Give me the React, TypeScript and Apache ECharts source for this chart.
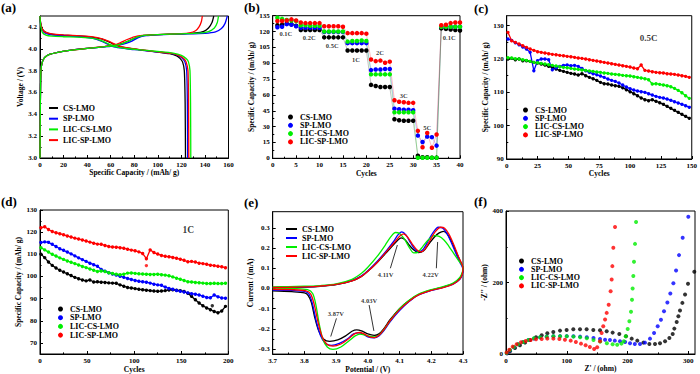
import React, { useEffect, useRef } from 'react';
import * as echarts from 'echarts';

const NAMES = ['CS-LMO', 'SP-LMO', 'LIC-CS-LMO', 'LIC-SP-LMO'];
const COLORS = ['#000000', '#0000ff', '#00ee00', '#ff0000'];
const FONT = '"Liberation Serif", "Times New Roman", "DejaVu Serif", serif';

// ---------- (a) charge / discharge profiles [capacity, voltage] ----------
const chargeCS = [[0, 3.0], [0.3, 3.5], [0.8, 3.8], [2, 3.88], [4, 3.92], [8, 3.948], [15, 3.968], [25, 3.985], [40, 4.003], [55, 4.02], [63, 4.033], [70, 4.05], [76, 4.075], [82, 4.105], [88, 4.122], [100, 4.13], [120, 4.137], [132, 4.145], [139, 4.16], [143, 4.19], [146, 4.24], [147.5, 4.3]];
const chargeSP = [[0, 3.0], [0.3, 3.5], [0.8, 3.8], [2, 3.88], [4, 3.92], [8, 3.948], [15, 3.968], [25, 3.985], [40, 4.003], [55, 4.018], [62, 4.025], [70, 4.04], [77, 4.065], [83, 4.1], [90, 4.12], [100, 4.128], [120, 4.135], [140, 4.142], [149, 4.155], [154, 4.185], [157, 4.23], [159, 4.3]];
const chargeLICCS = [[0, 3.0], [0.3, 3.5], [0.8, 3.8], [2, 3.88], [4, 3.92], [8, 3.948], [15, 3.968], [25, 3.985], [40, 4.003], [55, 4.019], [63, 4.03], [70, 4.048], [77, 4.08], [83, 4.108], [90, 4.124], [100, 4.13], [120, 4.137], [135, 4.143], [143, 4.158], [148, 4.19], [150.5, 4.24], [151.5, 4.3]];
const chargeLICSP = [[0, 3.0], [0.3, 3.5], [0.8, 3.8], [2, 3.88], [4, 3.92], [8, 3.948], [15, 3.968], [25, 3.985], [40, 4.004], [55, 4.022], [63, 4.035], [68, 4.055], [74, 4.085], [80, 4.11], [87, 4.123], [100, 4.13], [120, 4.138], [127, 4.145], [132, 4.165], [135, 4.2], [137, 4.25], [137.8, 4.3]];
const dischargeCS = [[0, 4.3], [0.5, 4.24], [2, 4.18], [5, 4.15], [10, 4.135], [20, 4.125], [35, 4.115], [45, 4.105], [52, 4.09], [58, 4.065], [63, 4.04], [68, 4.02], [75, 4.005], [85, 3.99], [100, 3.97], [110, 3.955], [116, 3.935], [119, 3.91], [121, 3.88], [122.5, 3.8], [123.2, 3.5], [123.5, 3.0]];
const dischargeSP = [[0, 4.3], [0.5, 4.23], [2, 4.17], [5, 4.14], [10, 4.128], [20, 4.12], [35, 4.11], [45, 4.095], [52, 4.07], [58, 4.04], [62, 4.02], [68, 4.008], [75, 3.998], [85, 3.988], [100, 3.97], [112, 3.955], [118, 3.935], [121, 3.91], [123, 3.88], [124.5, 3.8], [125.1, 3.5], [125.3, 3.0]];
const dischargeLICCS = [[0, 4.3], [0.5, 4.22], [2, 4.15], [5, 4.125], [10, 4.115], [20, 4.11], [35, 4.105], [45, 4.095], [52, 4.075], [58, 4.045], [62, 4.025], [68, 4.01], [75, 4.0], [85, 3.99], [100, 3.975], [113, 3.96], [120, 3.94], [124, 3.91], [126, 3.88], [127.3, 3.8], [127.8, 3.5], [128, 3.0]];
const dischargeLICSP = [[0, 4.3], [0.5, 4.24], [2, 4.18], [5, 4.15], [10, 4.137], [20, 4.128], [35, 4.118], [45, 4.108], [52, 4.093], [58, 4.07], [64, 4.04], [69, 4.02], [76, 4.005], [85, 3.992], [100, 3.972], [112, 3.957], [118, 3.937], [122, 3.91], [124, 3.88], [125.6, 3.8], [126.1, 3.5], [126.3, 3.0]];
const capTicks = [0, 20, 40, 60, 80, 100, 120, 140, 160];
const voltTicks = [3.0, 3.2, 3.4, 3.6, 3.8, 4.0, 4.2];

// ---------- (b) rate capability ----------
const rateCS = [126, 126.5, 127.5, 127, 125.5, 121.5, 121.5, 121.5, 121.5, 121.5, 114.5, 114.5, 114.5, 114.5, 114.5, 102, 102, 102, 102, 102, 69.5, 68.5, 67.5, 67.5, 67.5, 37, 36, 35.5, 35.5, 35.5, 2.5, 1, 1, 0.5, 0.5, 123, 122.5, 122, 121.5, 121];
const rateSP = [124, 124.5, 127, 126.5, 125, 123.5, 123.5, 123.5, 123.5, 123.5, 119.5, 119.5, 119.5, 119.5, 119.5, 109, 109, 109, 109, 109, 83.5, 84, 84, 84.5, 84.5, 47, 46.5, 46, 46, 45.5, 21.5, 15.5, 20.5, 20, 12, 124.5, 124.5, 124.5, 124.5, 124.5];
const rateLICCS = [133, 132, 131, 130.5, 130, 126, 126, 125.5, 125.5, 125.5, 120, 120, 120, 120, 120, 110.5, 111, 111, 111.5, 111, 79.5, 79.5, 79.5, 79.5, 79.5, 43.5, 43.5, 43.5, 43.5, 43.5, 0.5, 0.5, 0.5, 0.5, 0.5, 124.5, 124.5, 124.5, 124.5, 124.5];
const rateLICSP = [130, 130, 130.5, 131.5, 130.5, 128.5, 128, 128, 128, 128, 125, 125, 125, 125, 124.5, 118.5, 118.5, 118.5, 118.5, 118, 93.5, 92, 92.5, 90.5, 91.5, 55, 53.5, 53, 52.5, 52.5, 26, 10.5, 24, 10, 22.5, 126, 126.5, 128, 128.5, 128.5];
const rateLabels = ['0.1C', '0.2C', '0.5C', '1C', '2C', '3C', '5C', '0.1C'];
const rateLabelPos = [[2.8, 118.5], [7.8, 114.7], [12.7, 107.2], [17.8, 94], [22.9, 99.7], [28, 59.9], [33, 29.6], [37.7, 114.8]];
const rateXTicks = [0, 5, 10, 15, 20, 25, 30, 35, 40];
const rateYTicks = [0, 15, 30, 45, 60, 75, 90, 105, 120, 135];

// ---------- (c) 0.5C cycling (every 3rd cycle from 1) ----------
const cyc05CS = [120, 120.2, 119.8, 120, 119.5, 119.5, 119.3, 119, 118.8, 118.5, 118.2, 117.8, 117.5, 117, 116.6, 116.3, 116, 115.7, 115.5, 115.2, 115.6, 115, 114.5, 114.1, 113.6, 113, 112.6, 112.5, 112.2, 112, 111.8, 111.4, 110.8, 110.2, 109.6, 109, 108.3, 107.8, 107.5, 107.8, 107.3, 106.9, 106.4, 105.8, 105.2, 104.6, 104, 103.4, 102.8, 102.2];
const cyc05SP = [126, 125.6, 124.9, 124.3, 123.6, 123, 122, 116.5, 119.5, 120, 120, 119.8, 116.8, 117.4, 117.8, 118.1, 118.2, 118, 118.1, 117.8, 117.2, 116.5, 116, 115.6, 115.3, 114.9, 114.5, 114, 113.6, 113.3, 112.8, 112.2, 111.6, 111.1, 110.7, 110.4, 110.2, 110, 109.6, 109.2, 108.8, 108.5, 108.3, 108, 107.6, 107.2, 106.8, 106.4, 106, 105.5];
const cyc05LICCS = [120.4, 120.3, 120.1, 120, 119.8, 119.6, 119.3, 119, 118.9, 118.7, 118.5, 118.3, 118.1, 117.9, 117.7, 117.5, 117.4, 117.2, 117, 116.9, 116.7, 116.6, 116.4, 116.3, 116.1, 116, 115.8, 115.7, 115.5, 115.4, 115.3, 115.1, 115, 114.9, 114.7, 114.5, 114.3, 114.1, 113.8, 112.5, 112.6, 112.4, 112.2, 112, 111.7, 111.2, 110.6, 109.9, 109, 108.2];
const cyc05LICSP = [128, 125.5, 125, 124.5, 124, 123.5, 123, 122.6, 122.2, 122, 121.8, 121.6, 121.4, 121.3, 121.1, 121, 120.8, 120.7, 120.5, 120.3, 120.2, 120, 119.8, 119.6, 119.4, 119.2, 119, 118.8, 118.6, 118.4, 118.2, 118, 117.8, 117.6, 117.3, 117.1, 118.2, 116.6, 116.4, 116.2, 116, 115.9, 115.8, 115.6, 115.5, 115.4, 115.2, 115, 114.8, 114.5];
const c05XTicks = [0, 25, 50, 75, 100, 125, 150];
const c05YTicks = [90, 100, 110, 120, 130];

// ---------- (d) 1C cycling (every 4th cycle from 1) ----------
const cyc1CS = [110, 108.5, 106.5, 105, 103.8, 102.8, 102, 101.2, 100.4, 99.6, 99, 98.4, 98, 98.4, 97.5, 97.6, 97.4, 97.3, 97.1, 97, 96.9, 96.2, 95.6, 95, 94.8, 94.5, 94.2, 94, 93.8, 93.6, 93.4, 93.3, 93.4, 93.6, 93.9, 94, 93.8, 93.6, 93.2, 92.4, 91, 89.5, 88, 86.8, 85.8, 85, 84.2, 83.6, 84.4, 86.5];
const cyc1SP = [115.3, 115.6, 115.4, 114.5, 113.5, 112.5, 111.8, 111, 110.2, 109.3, 108.4, 107.6, 106.8, 106, 105.3, 104.6, 103.2, 102.4, 101.7, 101.1, 100.6, 100.1, 99.6, 99.1, 98.6, 98.2, 97.8, 97.6, 97.4, 97, 96.5, 96.2, 96, 95.2, 94.6, 94.2, 93.7, 93.3, 93, 92.6, 92.2, 92, 91.6, 91.1, 90.5, 90.4, 91.6, 90.8, 90.3, 90.2];
const cyc1LICCS = [113, 112, 111, 110, 109.2, 108.4, 107.7, 107, 106.4, 105.8, 105.2, 104.5, 104, 103.4, 102.8, 102.2, 102.5, 102.2, 101.7, 101.3, 101, 100.8, 101, 101.5, 101.6, 101.4, 101.2, 101.1, 101, 100.9, 100.9, 101, 100.8, 100.6, 100.3, 99.8, 99.2, 98.7, 98.2, 97.6, 97.5, 97.3, 97.2, 97, 96.8, 96.8, 96.9, 96.8, 96.8, 96.9];
const cyc1LICSP = [122, 122.4, 121.2, 120.3, 119.7, 119.3, 118.8, 118.3, 117.8, 117.3, 116.9, 116.5, 116, 115.5, 115, 114.6, 114.5, 114, 113.5, 113.3, 113.2, 113, 112.7, 112.3, 111.9, 111.6, 111.1, 110.4, 108, 112, 110.8, 110.1, 109.5, 109.1, 108.9, 108.6, 108.2, 107.8, 107.3, 106.6, 106.8, 106.5, 106, 105.8, 105.5, 105.1, 104.9, 104.6, 104.4, 103.9];
const cyc1OutCS = [[183, 86.8]];
const cyc1OutLICSP = [[113, 104.9]];
const c1XTicks = [0, 50, 100, 150, 200];
const c1YTicks = [70, 80, 90, 100, 110, 120, 130];

// ---------- (e) cyclic voltammetry [V, mA] ----------
const cvCS = [[3.70, 0.004], [3.75, 0.005], [3.80, 0.007], [3.85, 0.011], [3.90, 0.019], [3.95, 0.037], [3.98, 0.06], [4.00, 0.085], [4.03, 0.13], [4.06, 0.18], [4.08, 0.215], [4.095, 0.24], [4.105, 0.25], [4.118, 0.24], [4.13, 0.215], [4.145, 0.19], [4.16, 0.177], [4.175, 0.185], [4.19, 0.215], [4.21, 0.255], [4.225, 0.275], [4.238, 0.283], [4.25, 0.27], [4.265, 0.23], [4.28, 0.175], [4.29, 0.14], [4.3, 0.1],
  [4.298, 0.075], [4.29, 0.05], [4.27, 0.025], [4.24, 0.008], [4.2, -0.008], [4.16, -0.03], [4.13, -0.06], [4.1, -0.1], [4.07, -0.155], [4.05, -0.2], [4.035, -0.225], [4.02, -0.232], [4.0, -0.225], [3.98, -0.21], [3.965, -0.205], [3.95, -0.212], [3.93, -0.235], [3.905, -0.255], [3.88, -0.262], [3.86, -0.25], [3.845, -0.21], [3.832, -0.14], [3.822, -0.07], [3.812, -0.035], [3.8, -0.022], [3.76, -0.016], [3.7, -0.012]];
const cvSP = [[3.70, 0.005], [3.75, 0.006], [3.80, 0.008], [3.85, 0.012], [3.90, 0.02], [3.95, 0.04], [3.98, 0.063], [4.00, 0.088], [4.03, 0.135], [4.06, 0.19], [4.08, 0.23], [4.095, 0.265], [4.107, 0.28], [4.12, 0.265], [4.135, 0.225], [4.15, 0.19], [4.162, 0.182], [4.175, 0.195], [4.19, 0.235], [4.205, 0.275], [4.222, 0.303], [4.235, 0.3], [4.25, 0.27], [4.265, 0.22], [4.28, 0.165], [4.29, 0.13], [4.3, 0.095],
  [4.298, 0.07], [4.29, 0.045], [4.27, 0.022], [4.24, 0.006], [4.2, -0.01], [4.16, -0.032], [4.13, -0.065], [4.1, -0.11], [4.07, -0.165], [4.05, -0.21], [4.035, -0.235], [4.02, -0.245], [4.0, -0.24], [3.985, -0.225], [3.97, -0.22], [3.955, -0.225], [3.935, -0.25], [3.91, -0.272], [3.885, -0.282], [3.865, -0.27], [3.85, -0.23], [3.837, -0.16], [3.826, -0.08], [3.815, -0.03], [3.8, -0.015], [3.76, -0.01], [3.7, -0.008]];
const cvLICCS = [[3.70, 0.008], [3.75, 0.009], [3.80, 0.011], [3.85, 0.014], [3.90, 0.022], [3.95, 0.045], [3.98, 0.075], [4.00, 0.105], [4.03, 0.16], [4.055, 0.215], [4.072, 0.255], [4.087, 0.277], [4.1, 0.272], [4.115, 0.245], [4.13, 0.205], [4.145, 0.176], [4.158, 0.18], [4.172, 0.205], [4.19, 0.24], [4.21, 0.262], [4.225, 0.258], [4.24, 0.24], [4.255, 0.21], [4.27, 0.175], [4.285, 0.14], [4.3, 0.105],
  [4.298, 0.08], [4.29, 0.055], [4.27, 0.028], [4.24, 0.01], [4.2, -0.006], [4.16, -0.028], [4.13, -0.058], [4.1, -0.1], [4.07, -0.16], [4.05, -0.205], [4.035, -0.23], [4.02, -0.24], [4.0, -0.235], [3.985, -0.228], [3.975, -0.226], [3.96, -0.235], [3.94, -0.26], [3.915, -0.29], [3.89, -0.302], [3.872, -0.29], [3.858, -0.25], [3.846, -0.17], [3.836, -0.08], [3.826, -0.025], [3.81, -0.006], [3.77, 0.0], [3.7, 0.002]];
const cvLICSP = [[3.70, 0.005], [3.75, 0.006], [3.80, 0.008], [3.85, 0.012], [3.90, 0.02], [3.95, 0.038], [3.98, 0.06], [4.00, 0.085], [4.03, 0.13], [4.06, 0.185], [4.085, 0.23], [4.1, 0.258], [4.112, 0.27], [4.125, 0.255], [4.14, 0.22], [4.155, 0.19], [4.167, 0.181], [4.18, 0.195], [4.195, 0.235], [4.212, 0.28], [4.23, 0.303], [4.242, 0.298], [4.255, 0.27], [4.27, 0.22], [4.285, 0.16], [4.3, 0.1],
  [4.298, 0.072], [4.29, 0.046], [4.27, 0.022], [4.24, 0.005], [4.2, -0.01], [4.16, -0.032], [4.13, -0.063], [4.1, -0.105], [4.07, -0.16], [4.05, -0.205], [4.035, -0.232], [4.022, -0.243], [4.005, -0.24], [3.988, -0.225], [3.973, -0.218], [3.958, -0.225], [3.94, -0.248], [3.915, -0.275], [3.89, -0.286], [3.87, -0.275], [3.855, -0.235], [3.842, -0.16], [3.831, -0.08], [3.82, -0.028], [3.805, -0.012], [3.76, -0.006], [3.7, -0.004]];
const cvLabels = ['4.11V', '4.22V', '3.87V', '4.03V'];
const cvLabelPos = [[4.056, 0.071], [4.198, 0.071], [3.899, -0.123], [4.004, -0.06]];
const cvArrowFrom = [[4.071, 0.1], [4.216, 0.1], [3.901, -0.148], [4.004, -0.082]];
const cvArrowTo = [[4.093, 0.215], [4.22, 0.23], [3.883, -0.238], [4.019, -0.21]];
const cvXTicks = [3.7, 3.8, 3.9, 4.0, 4.1, 4.2, 4.3];
const cvYTicks = [-0.3, -0.2, -0.1, 0, 0.1, 0.2, 0.3];

// ---------- (f) Nyquist [Z', -Z''] ----------
const eisCS = [[2, 2], [6.6, 7.5], [14.8, 16.8], [23, 24.3], [31.3, 31.8], [39.5, 39.3], [49.4, 46.7], [58.7, 52.3], [68, 57.9], [77.9, 61.7], [88.9, 65.4], [99.8, 67.3], [110.8, 69.2], [121.8, 69.2], [132.7, 69.2], [143.7, 67.3], [154.7, 66.4], [165.7, 63.6], [175.5, 59.8], [186.5, 56.1], [197.5, 49.5], [206.8, 43], [216.1, 37.4], [226, 31.8], [235.9, 28], [245.2, 28], [253.4, 29.9], [261.7, 35.5], [268.8, 44.9], [274.3, 56.1], [277, 71], [280.9, 89.7], [283.6, 105.6], [286.3, 121.5], [290.2, 143], [294.6, 166.4], [299.5, 196.3], [309.9, 229.9]];
const eisSP = [[1.5, 2], [6.6, 10], [13, 19], [20, 27], [28, 33.6], [37, 39], [46, 43], [56, 46.5], [67, 48.6], [78, 49.5], [89, 50], [100, 50], [111, 49.5], [122, 48.6], [133, 47], [144, 45], [154.7, 42], [163, 40], [171, 39], [179, 37.4], [187.6, 35.5], [196, 33.6], [204, 30], [212, 28], [220.5, 28], [228.7, 31.8], [237, 43], [243.6, 58.9], [249.6, 77.6], [255, 96], [260, 119.6], [265.5, 144], [270.4, 169], [275.4, 198], [279.8, 233.6], [284.7, 276.6], [290.7, 325], [300, 384]];
const eisLICCS = [[1, 3], [6.6, 11], [13, 19.6], [20, 27], [28.5, 33.6], [36.8, 39], [46, 44], [56, 46.7], [67, 48.6], [78, 49.5], [89, 49.5], [100, 49.5], [111, 48.6], [122, 46.7], [133, 44], [144, 39], [155, 34.6], [166, 30], [175.5, 27], [183, 26], [190, 29], [194, 35.5], [197, 49.5], [200.2, 70], [203, 91.6], [205.7, 118], [207.3, 152], [208.4, 183], [209.5, 218], [210.6, 258], [212.3, 308], [214, 369]];
const eisLICSP = [[1, 4], [5.5, 12], [11, 20.6], [17.6, 27], [24.7, 32.7], [32.4, 36.4], [40.6, 39], [49.4, 41], [58.7, 42], [68, 43], [78, 43], [87.8, 42], [97, 40], [106.4, 37.4], [115, 33.6], [123.4, 29], [131, 24.3], [138, 19.6], [145, 14], [150, 18.7], [154.7, 35.5], [157.4, 58.9], [160, 77.6], [163, 96.3], [165.7, 115], [169, 138], [172.2, 175.7], [173.9, 208.4], [175, 245.8], [176.6, 297], [179.4, 355]];
const eisXTicks = [0, 100, 200, 300];
const eisYTicks = [0, 200, 400];

const panelTitles = ['(a)', '(b)', '(c)', '(d)', '(e)', '(f)'];

function txt(size: number) {
  return { fontFamily: FONT, fontWeight: 'bold', fontSize: size, color: '#000' };
}

function cycles(start: number, step: number, n: number) {
  return Array.from({ length: n }, (_, i) => start + step * i);
}

function midpoints(ticks: number[]) {
  const out: number[] = [];
  for (let i = 0; i < ticks.length - 1; i++) out.push((ticks[i] + ticks[i + 1]) / 2);
  return out;
}

function axis(gi: number, min: number, max: number, ticks: number[], name: string, gap: number, fmt?: (v: number) => string) {
  return {
    type: 'value', gridIndex: gi, min, max, name, nameLocation: 'middle', nameGap: gap,
    nameTextStyle: txt(7.5),
    axisLine: { show: true, onZero: false, lineStyle: { color: '#000', width: 1 } },
    axisTick: { show: true, inside: true, length: 3, customValues: ticks, lineStyle: { color: '#000', width: 1 } },
    axisLabel: { ...txt(7), margin: 3, customValues: ticks, formatter: fmt },
    splitLine: { show: false },
  };
}

function minorAxis(gi: number, min: number, max: number, ticks: number[], position: string) {
  return {
    type: 'value', gridIndex: gi, min, max, position, offset: 0,
    axisLine: { show: false, onZero: false },
    axisLabel: { show: false },
    splitLine: { show: false },
    axisTick: { show: true, inside: true, length: 1.6, customValues: midpoints(ticks), lineStyle: { color: '#000', width: 1 } },
  };
}

function legend(left: number, top: number, icon: string, w: number, h: number, gap: number) {
  return {
    left, top, orient: 'vertical', icon, itemWidth: w, itemHeight: h, itemGap: gap,
    selectedMode: false, padding: 0,
    textStyle: { ...txt(8), lineHeight: 8 },
    data: NAMES.map((n, i) => ({ name: n, icon, itemStyle: { color: COLORS[i] } })),
  };
}

function labelSeries(gi: number, labels: string[], pos: number[][], size: number, extra?: any) {
  return {
    type: 'scatter', xAxisIndex: gi, yAxisIndex: gi, symbolSize: 1, silent: true,
    itemStyle: { color: 'rgba(0,0,0,0)' },
    label: { show: true, position: 'inside', formatter: '{b}', ...txt(size) },
    data: labels.map((t, i) => ({ name: t, value: pos[i] })),
    z: 10,
    ...(extra || {}),
  };
}

function buildOption() {
  const f1 = (v: number) => v.toFixed(1);
  const grids = [
    { left: 40, top: 16, width: 188.5, height: 142 },
    { left: 272.7, top: 15.7, width: 187.3, height: 142.6 },
    { left: 506.7, top: 15.7, width: 188.6, height: 143.3 },
    { left: 40, top: 210, width: 188.3, height: 145 },
    { left: 272.7, top: 211.7, width: 190.3, height: 143.3 },
    { left: 506, top: 211, width: 189, height: 143 },
  ].map((g) => ({ ...g, show: true, borderColor: '#000', borderWidth: 1, backgroundColor: 'transparent' }));

  const xSpec: [number, number, number[], string, number, any][] = [
    [0, 160, capTicks, 'Specific Capacity / (mAh/ g)', 10, undefined],
    [0, 40, rateXTicks, 'Cycles', 10, undefined],
    [0, 150, c05XTicks, 'Cycles', 9.5, undefined],
    [0, 200, c1XTicks, 'Cycles', 11, undefined],
    [3.7, 4.3, cvXTicks, 'Potential / (V)', 9.5, f1],
    [0, 311, eisXTicks, "Z' / (ohm)", 10, undefined],
  ];
  const ySpec: [number, number, number[], string, number, any][] = [
    [3.0, 4.3, voltTicks, 'Voltage / (V)', 12, f1],
    [0, 135, rateYTicks, 'Specific Capacity / (mAh/ g)', 13.5, undefined],
    [90, 133, c05YTicks, 'Specific Capacity / (mAh/ g)', 15, undefined],
    [65, 130, c1YTicks, 'Specific Capacity / (mAh/ g)', 15, undefined],
    [-0.325, 0.38, cvYTicks, 'Current / (mA)', 11, f1],
    [0, 400, eisYTicks, "-Z'' / (ohm)", 14, undefined],
  ];
  const xAxis: any[] = xSpec.map((s, i) => ({ ...axis(i, s[0], s[1], s[2], s[3], s[4], s[5]), position: 'bottom' }));
  const yAxis: any[] = ySpec.map((s, i) => ({ ...axis(i, s[0], s[1], s[2], s[3], s[4], s[5]), position: 'left' }));
  xSpec.forEach((s, i) => xAxis.push(minorAxis(i, s[0], s[1], s[2], 'bottom')));
  ySpec.forEach((s, i) => yAxis.push(minorAxis(i, s[0], s[1], s[2], 'left')));

  const series: any[] = [];

  // (a)
  const charges = [chargeCS, chargeSP, chargeLICCS, chargeLICSP];
  const discharges = [dischargeCS, dischargeSP, dischargeLICCS, dischargeLICSP];
  [0, 1, 3, 2].forEach((i) => {
    [charges[i], discharges[i]].forEach((d) => {
      series.push({
        type: 'line', name: NAMES[i], xAxisIndex: 0, yAxisIndex: 0, data: d,
        symbol: 'none', showSymbol: false, smooth: 0.2, silent: true,
        lineStyle: { color: COLORS[i], width: 1.3 }, itemStyle: { color: COLORS[i] },
      });
    });
  });

  // (b)
  const rc = cycles(1, 1, 40);
  [rateCS, rateSP, rateLICCS, rateLICSP].forEach((vals, i) => {
    series.push({
      type: 'line', name: NAMES[i], xAxisIndex: 1, yAxisIndex: 1,
      data: vals.map((v, k) => [rc[k], v]),
      symbol: 'circle', symbolSize: 4.5, showSymbol: true, silent: true,
      lineStyle: { color: COLORS[i], width: 0.7, opacity: 0.35 }, itemStyle: { color: COLORS[i] },
    });
  });
  series.push(labelSeries(1, rateLabels, rateLabelPos, 6.5));

  // (c)
  const cc = cycles(1, 3, 50);
  [cyc05CS, cyc05SP, cyc05LICCS, cyc05LICSP].forEach((vals, i) => {
    series.push({
      type: 'line', name: NAMES[i], xAxisIndex: 2, yAxisIndex: 2,
      data: vals.map((v, k) => [cc[k], v]),
      symbol: 'circle', symbolSize: 3.4, showSymbol: true, silent: true,
      lineStyle: { color: COLORS[i], width: 1.3 }, itemStyle: { color: COLORS[i] },
    });
  });
  series.push(labelSeries(2, ['0.5C'], [[115, 126.4]], 9));

  // (d)
  const dc = cycles(1, 4, 50);
  [cyc1CS, cyc1SP, cyc1LICCS, cyc1LICSP].forEach((vals, i) => {
    series.push({
      type: 'line', name: NAMES[i], xAxisIndex: 3, yAxisIndex: 3,
      data: vals.map((v, k) => [dc[k], v]),
      symbol: 'circle', symbolSize: 3.4, showSymbol: true, silent: true,
      lineStyle: { color: COLORS[i], width: 1.3 }, itemStyle: { color: COLORS[i] },
    });
  });
  [[cyc1OutCS, 0], [cyc1OutLICSP, 3]].forEach(([d, i]: any) => {
    series.push({
      type: 'scatter', name: NAMES[i], xAxisIndex: 3, yAxisIndex: 3, data: d,
      symbol: 'circle', symbolSize: 3.4, silent: true, itemStyle: { color: COLORS[i] },
    });
  });
  series.push(labelSeries(3, ['1C'], [[157.5, 121]], 9.5));

  // (e)
  [cvCS, cvSP, cvLICCS, cvLICSP].forEach((d, i) => {
    series.push({
      type: 'line', name: NAMES[i], xAxisIndex: 4, yAxisIndex: 4, data: d,
      symbol: 'none', showSymbol: false, smooth: 0.3, silent: true,
      lineStyle: { color: COLORS[i], width: 1.3 }, itemStyle: { color: COLORS[i] },
    });
  });
  series.push(labelSeries(4, cvLabels, cvLabelPos, 6.5, {
    markLine: {
      silent: true, symbol: ['none', 'arrow'], symbolSize: [0, 5],
      label: { show: false }, lineStyle: { color: '#000', width: 0.8, type: 'solid' },
      data: cvArrowFrom.map((p, i) => [{ coord: p }, { coord: cvArrowTo[i] }]),
    },
  }));

  // (f)
  [eisCS, eisSP, eisLICCS, eisLICSP].forEach((d, i) => {
    series.push({
      type: 'scatter', name: NAMES[i], xAxisIndex: 5, yAxisIndex: 5, data: d,
      symbol: 'circle', symbolSize: 4, silent: true, itemStyle: { color: COLORS[i] },
    });
  });

  const titlePos = [[1, 1], [244, 1], [474, 2], [1, 195], [244, 196], [474, 195]];
  const title = panelTitles.map((t, i) => ({
    text: t, left: titlePos[i][0], top: titlePos[i][1], padding: 0,
    textStyle: txt(13),
  }));

  return {
    animation: false,
    backgroundColor: '#ffffff',
    title,
    grid: grids,
    xAxis,
    yAxis,
    legend: [
      legend(49, 104, 'rect', 9, 2, 2.7),
      legend(288, 113, 'circle', 9, 5, 0.3),
      legend(523, 106, 'circle', 9, 5, 0.3),
      legend(58, 305, 'circle', 9, 5, 0.7),
      legend(286, 225, 'rect', 11, 2, 1),
      legend(519, 257, 'circle', 9, 5, 0.3),
    ],
    series,
  };
}

export default function App() {
  const ref = useRef<HTMLDivElement>(null);
  useEffect(() => {
    const chart = echarts.init(ref.current as HTMLDivElement, undefined, { renderer: 'svg' });
    chart.setOption(buildOption() as any);
    return () => chart.dispose();
  }, []);
  return (
    <div
      ref={ref}
      style={{ position: 'fixed', left: 0, top: 0, width: 700, height: 374, background: '#fff' }}
    />
  );
}
